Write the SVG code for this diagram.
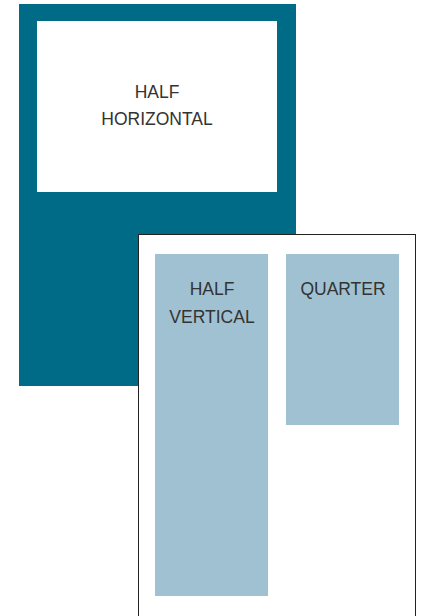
<svg xmlns="http://www.w3.org/2000/svg" width="421" height="616" viewBox="0 0 421 616">
<style>
.lbl{font-family:"Liberation Sans",Arial,sans-serif;font-size:17.5px;fill:#333;text-anchor:middle}
.blk{fill:#A0C1D1}
</style>
<rect width="421" height="616" fill="#fff"/>
<g id="half-horizontal-frame">
<rect x="19" y="4" width="277" height="382" fill="#006B87"/>
<rect x="37" y="21" width="240" height="171" fill="#fff"/>
<text class="lbl" x="157" y="98">HALF</text>
<text class="lbl" x="157" y="125">HORIZONTAL</text>
</g>
<g id="page">
<rect x="138.5" y="234.5" width="277" height="390" fill="#fff" stroke="#222" stroke-width="1"/>
</g>
<g id="half-vertical">
<rect class="blk" x="155" y="254" width="113" height="342"/>
<text class="lbl" x="212" y="295">HALF</text>
<text class="lbl" x="212" y="323">VERTICAL</text>
</g>
<g id="quarter">
<rect class="blk" x="286" y="254" width="113" height="171"/>
<text class="lbl" x="343" y="295">QUARTER</text>
</g>
<g id="connectors"></g>
</svg>
